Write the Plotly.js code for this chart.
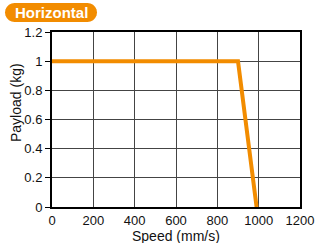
<!DOCTYPE html>
<html><head><meta charset="utf-8">
<script src="https://cdn.plot.ly/plotly-3.0.1.min.js"></script>
<style>html,body{margin:0;padding:0;background:#fff}#c{width:317px;height:243px}</style>
</head><body><div id="c"></div>
<script>
const speed = [0, 900, 990];
const payload = [1, 1, 0];
const xTicks = [0, 200, 400, 600, 800, 1000, 1200];
const yTicks = [0, 0.2, 0.4, 0.6, 0.8, 1, 1.2];
const yTickText = ['0', '0.2', '0.4', '0.6', '0.8', '1', '1.2'];
const badgeText = 'Horizontal';
const xTitle = 'Speed (mm/s)';
const yTitle = 'Payload (kg)';

const W = 317, H = 243, L = 52, R = 17, T = 32, B = 36;
const pw = W - L - R, ph = H - T - B;
function px(x){return (x - L) / pw;}
function py(y){return (H - B - y) / ph;}
const bx0 = 5, bx1 = 97, by0 = 3, by1 = 22, r = 9.5;
function pill(){
  const pts = [];
  const n = 10;
  for (let i = 0; i <= n; i++) {
    const a = -Math.PI/2 + Math.PI * i / n;
    pts.push([bx1 - r + r*Math.cos(a), (by0+by1)/2 + r*Math.sin(a)]);
  }
  for (let i = 0; i <= n; i++) {
    const a = Math.PI/2 + Math.PI * i / n;
    pts.push([bx0 + r + r*Math.cos(a), (by0+by1)/2 + r*Math.sin(a)]);
  }
  return 'M' + pts.map(p => px(p[0]).toFixed(4) + ',' + py(p[1]).toFixed(4)).join(' L') + ' Z';
}
const FONT = 'Liberation Sans, Arial, sans-serif';
const data = [{
  x: speed, y: payload, type: 'scatter', mode: 'lines',
  line: {color: '#F28C00', width: 4}, hoverinfo: 'skip'
}];
const axisCommon = {
  showline: true, linecolor: '#000', linewidth: 2, mirror: true,
  showgrid: true, gridcolor: '#444', gridwidth: 1,
  tickcolor: '#000', zeroline: false,
  tickfont: {family: FONT, size: 13, color: '#111'}
};
const layout = {
  width: W, height: H,
  margin: {l: L, r: R, t: T, b: B, pad: 0},
  paper_bgcolor: '#fff', plot_bgcolor: '#fff',
  showlegend: false,
  xaxis: Object.assign({}, axisCommon, {
    range: [0, 1200], tickvals: xTicks, ticktext: xTicks.map(String),
    ticks: ''
  }),
  yaxis: Object.assign({}, axisCommon, {
    range: [0, 1.2], tickvals: yTicks, ticktext: yTickText,
    ticks: 'outside', ticklen: 5
  }),
  shapes: [{
    type: 'path', xref: 'paper', yref: 'paper', path: pill(),
    fillcolor: '#F28C00', line: {width: 0}, layer: 'above'
  }],
  annotations: [{
    xref: 'paper', yref: 'paper', x: px((bx0+bx1)/2), y: py((by0+by1)/2),
    xanchor: 'center', yanchor: 'middle', showarrow: false,
    text: '<b>' + badgeText + '</b>',
    font: {family: FONT, size: 15, color: '#fff'}
  }, {
    xref: 'paper', yref: 'paper', x: px(176), y: py(235.5),
    xanchor: 'center', yanchor: 'middle', showarrow: false, borderpad: 0,
    text: xTitle, font: {family: FONT, size: 14, color: '#111'}
  }, {
    xref: 'paper', yref: 'paper', x: px(16), y: py(103),
    xanchor: 'center', yanchor: 'middle', showarrow: false, textangle: -90,
    text: yTitle, font: {family: FONT, size: 14, color: '#111'}
  }]
};
Plotly.newPlot('c', data, layout, {displayModeBar: false, staticPlot: true});
</script></body></html>
